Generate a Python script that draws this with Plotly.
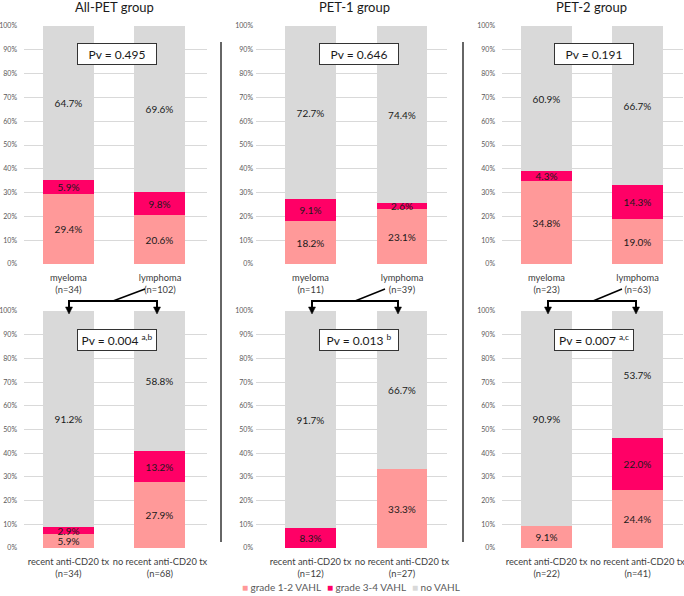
import plotly.graph_objects as go

# ---------------- data ----------------
groups = ["All-PET group", "PET-1 group", "PET-2 group"]

top_categories = [["myeloma<br>(n=34)", "lymphoma<br>(n=102)"],
                  ["myeloma<br>(n=11)", "lymphoma<br>(n=39)"],
                  ["myeloma<br>(n=23)", "lymphoma<br>(n=63)"]]
bottom_categories = [["recent anti-CD20 tx<br>(n=34)", "no recent anti-CD20 tx<br>(n=68)"],
                     ["recent anti-CD20 tx<br>(n=12)", "no recent anti-CD20 tx<br>(n=27)"],
                     ["recent anti-CD20 tx<br>(n=22)", "no recent anti-CD20 tx<br>(n=41)"]]

# values in percent: [first bar, second bar]
top_grade12 = [[29.4, 20.6], [18.2, 23.1], [34.8, 19.0]]
top_grade34 = [[5.9, 9.8], [9.1, 2.6], [4.3, 14.3]]
top_none = [[64.7, 69.6], [72.7, 74.4], [60.9, 66.7]]

bottom_grade12 = [[5.9, 27.9], [0.0, 33.3], [9.1, 24.4]]
bottom_grade34 = [[2.9, 13.2], [8.3, 0.0], [0.0, 22.0]]
bottom_none = [[91.2, 58.8], [91.7, 66.7], [90.9, 53.7]]

top_pvalues = ["Pv = 0.495", "Pv = 0.646", "Pv = 0.191"]
bottom_pvalues = ["Pv = 0.004 <sup>a,b</sup>", "Pv = 0.013 <sup>b</sup>", "Pv = 0.007 <sup>a,c</sup>"]

series_names = ["grade 1-2 VAHL", "grade 3-4 VAHL", "no VAHL"]
series_colors = ["#FF9999", "#FF0066", "#D9D9D9"]

y_tick_values = list(range(0, 101, 10))
y_tick_labels = [f"{v}%" for v in y_tick_values]

# ---------------- layout geometry (pixels) ----------------
W, H = 684, 596
FONT = "Lato, Calibri, Carlito, sans-serif"


def px(x):
    return x / W


def py(y):
    return 1 - y / H


col_domains = [(24, 207), (256, 447), (502, 683)]
col_ranges = [(-0.486, 1.514), (-0.596, 1.492), (-0.489, 1.5)]
row_domains = [(26, 264), (311, 548)]
col_title_x = [114.5, 354, 591]
pv_box_x = [117, 359.5, 594]
bracket_x = [(69, 157), (312, 398), (548, 636)]
diag = [((113, 301), (145, 289)), ((355, 301), (385, 289)), ((593, 301), (622, 289))]

fig = go.Figure()
annotations = []
shapes = []

panel = 0
for row in range(2):
    for col in range(3):
        panel += 1
        xa = "x" if panel == 1 else f"x{panel}"
        ya = "y" if panel == 1 else f"y{panel}"
        if row == 0:
            cats = top_categories[col]
            vals = [top_grade12[col], top_grade34[col], top_none[col]]
        else:
            cats = bottom_categories[col]
            vals = [bottom_grade12[col], bottom_grade34[col], bottom_none[col]]
        for s in range(3):
            v = vals[s]
            xs = [i for i, t in enumerate(v) if t > 0]
            ys = [v[i] for i in xs]
            fig.add_trace(go.Bar(
                x=xs, y=ys, xaxis=xa, yaxis=ya,
                name=series_names[s],
                marker=dict(color=series_colors[s], line=dict(width=0)),
                width=0.557,
                text=[f"{t:.1f}%" for t in ys],
                textposition="inside", insidetextanchor="middle",
                textangle=0,
                textfont=dict(family=FONT, size=10, color="#1a1a1a"),
                showlegend=False, hoverinfo="skip",
            ))
        d0, d1 = col_domains[col]
        r0, r1 = row_domains[row]
        axis_x = dict(domain=[px(d0), px(d1)], range=list(col_ranges[col]),
                      tickvals=[0, 1], ticktext=cats, showgrid=False,
                      zeroline=False, showline=False, ticks="", tickangle=0,
                      automargin=False, ticklabeloverflow="allow",
                      ticklabelstandoff=7,
                      tickfont=dict(family=FONT, size=9.3, color="#404040"),
                      anchor=ya, fixedrange=True)
        axis_y = dict(domain=[py(r1), py(r0)], range=[0, 100],
                      tickvals=y_tick_values, ticktext=y_tick_labels,
                      showgrid=True, gridcolor="#D9D9D9", gridwidth=1,
                      zeroline=False, showline=False, ticks="",
                      automargin=False, ticklabeloverflow="allow",
                      ticklabelstandoff=2 if col == 1 else 6,
                      tickfont=dict(family=FONT, size=7, color="#595959"),
                      anchor=xa, fixedrange=True)
        fig.update_layout(**{("xaxis" if panel == 1 else f"xaxis{panel}"): axis_x,
                             ("yaxis" if panel == 1 else f"yaxis{panel}"): axis_y})

        # p-value boxes
        pv = top_pvalues[col] if row == 0 else bottom_pvalues[col]
        annotations.append(dict(
            x=px(pv_box_x[col]), y=py(54 if row == 0 else 340), xref="paper", yref="paper",
            xanchor="center", yanchor="middle",
            text=pv, showarrow=False, bgcolor="white", bordercolor="#333333",
            borderwidth=1, borderpad=1, width=76, height=18,
            font=dict(family=FONT, size=12, color="#1a1a1a")))

# legend entries
legend_x = [281, 366, 436]
for name, color, lx in zip(series_names, series_colors, legend_x):
    annotations.append(dict(
        x=px(lx), y=py(587), xref="paper", yref="paper", showarrow=False,
        xanchor="center", yanchor="middle",
        text=f'<span style="color:{color}">■</span> {name}',
        font=dict(family=FONT, size=10, color="#595959")))

# group titles
for t, tx in zip(groups, col_title_x):
    annotations.append(dict(x=px(tx), y=py(7), xref="paper", yref="paper",
                            xanchor="center", yanchor="middle",
                            text=t, showarrow=False,
                            font=dict(family=FONT, size=13, color="#1a1a1a")))

# brackets with arrows
for col in range(3):
    xl, xr = bracket_x[col]
    shapes.append(dict(type="line", xref="paper", yref="paper",
                       x0=px(xl), x1=px(xr), y0=py(301), y1=py(301),
                       line=dict(color="black", width=2)))
    (ax0, ay0), (ax1, ay1) = diag[col]
    shapes.append(dict(type="line", xref="paper", yref="paper",
                       x0=px(ax0), y0=py(ay0), x1=px(ax1), y1=py(ay1),
                       line=dict(color="black", width=1.5)))
    for xx in (xl, xr):
        shapes.append(dict(type="line", xref="paper", yref="paper",
                           x0=px(xx), x1=px(xx), y0=py(300), y1=py(308),
                           line=dict(color="black", width=2)))
        shapes.append(dict(type="path", xref="paper", yref="paper",
                           path=f"M {px(xx-3.5)} {py(307)} L {px(xx+3.5)} {py(307)} L {px(xx)} {py(314)} Z",
                           fillcolor="black", line=dict(color="black", width=0.5)))

# vertical separators
for sx in (221, 463):
    shapes.append(dict(type="line", xref="paper", yref="paper",
                       x0=px(sx), x1=px(sx), y0=py(42), y1=py(542),
                       line=dict(color="#333333", width=1.5)))

fig.update_layout(
    width=W, height=H, margin=dict(l=0, r=0, t=0, b=0),
    barmode="stack", bargap=0,
    paper_bgcolor="white", plot_bgcolor="white",
    showlegend=False,
    uniformtext=dict(minsize=10, mode="show"),
    annotations=annotations, shapes=shapes,
    font=dict(family=FONT),
)

fig.write_html("out.html", config={"displayModeBar": False},
               post_script="document.body.style.margin='0';document.body.style.overflow='hidden';")
